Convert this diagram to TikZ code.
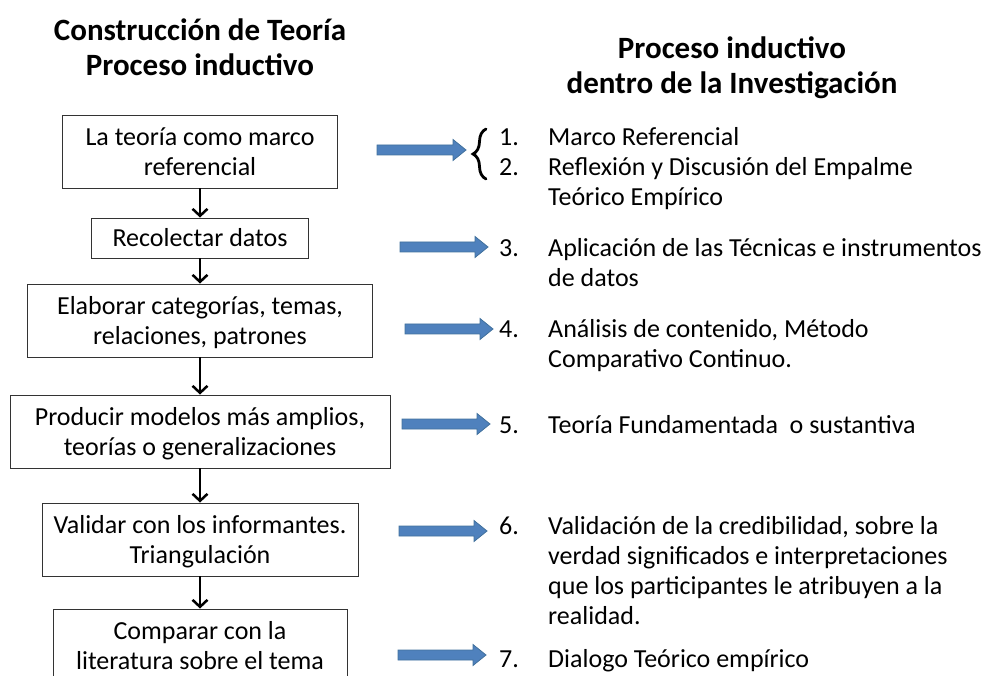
\documentclass[tikz,border=0pt]{standalone}
\usepackage{fontspec}
\setmainfont{Carlito}
\usetikzlibrary{arrows.meta,decorations.pathreplacing}
\definecolor{azulflecha}{HTML}{4F81BD}
\definecolor{azulborde}{HTML}{41719C}
\newcommand\puntal{\rule[-0.2\baselineskip]{0pt}{\baselineskip}}
\newcommand\inicio{\spaceskip=\fontdimen2\font\relax\xspaceskip=\fontdimen2\font\relax\hyphenpenalty=10000\relax\puntal}
\def\flecha(#1,#2)(#3){\draw[fill=azulflecha, draw=azulborde, line width=0.8pt] (#1, #2-5) -- (#3-13, #2-5) -- (#3-13, #2-10.5) -- (#3, #2) -- (#3-13, #2+10.5) -- (#3-13, #2+5) -- (#1, #2+5) -- cycle;}

\begin{document}
\begin{tikzpicture}[x=1pt, y=-1pt,
	caja/.style={draw=black!80, line width=0.9pt, align=flush center, inner sep=0pt, minimum height=73pt,
		minimum width=#1, text width=#1,
		font=\fontsize{26}{30}\selectfont, execute at begin node=\inicio, execute at end node=\puntal},
	renglon/.style={anchor=north west, align=flush left, inner sep=0pt, text width=450pt,
		font=\fontsize{26}{30}\selectfont, execute at begin node=\inicio, execute at end node=\puntal},
	numero/.style={renglon, text width=30pt},
	titulo/.style={align=flush center, inner sep=0pt, text width=420pt, font=\fontsize{31}{35}\selectfont\bfseries,
		execute at begin node=\inicio, execute at end node=\puntal},
	bajar/.style={line width=2.5pt, -{Straight Barb[length=7pt,width=15pt]}}]
			%%%%% START %%%%%
			
			\clip (0, 0) rectangle (988, 676);
			
			\node[titulo] (titizq) at (200, 47.5) {Construcción de Teoría\\Proceso inductivo};
			\node[titulo] (titder) at (732, 65.5) {Proceso inductivo\\dentro de la Investigación};
			
			\node[caja=275pt] (teoria) at (200, 151.5) {La teoría como marco\\referencial};
			\node[caja=217pt, minimum height=40pt] (datos) at (200, 238) {Recolectar datos};
			\node[caja=345pt] (categorias) at (200, 320.5) {Elaborar categorías, temas,\\relaciones, patrones};
			\node[caja=380pt] (modelos) at (200, 431.5) {Producir modelos más amplios,\\teorías o generalizaciones};
			\node[caja=316pt] (validar) at (200, 539.5) {Validar con los informantes.\\Triangulación};
			\node[caja=294pt] (comparar) at (200, 645.5) {Comparar con la\\literatura sobre el tema};
			
			\draw[bajar] (teoria) -- (datos);
			\draw[bajar] (datos) -- (categorias);
			\draw[bajar] (categorias) -- (modelos);
			\draw[bajar] (modelos) -- (validar);
			\draw[bajar] (validar) -- (comparar);
			
			\flecha(377, 150)(466);
			\flecha(400, 247)(488);
			\flecha(405, 329)(493);
			\flecha(402, 424)(490);
			\flecha(399, 531)(487);
			\flecha(398, 655)(486);
			
			\draw[line width=2.8pt, line cap=round, decorate, decoration={brace, amplitude=13pt}] (486, 179) -- (486, 129);
			
			\node[numero] (n1) at (499, 121) {1.};
			\node[renglon] (t1) at (548, 121) {Marco Referencial};
			\node[numero] (n2) at (499, 151) {2.};
			\node[renglon] (t2) at (548, 151) {Reflexión y Discusión del Empalme\\Teórico Empírico};
			\node[numero] (n3) at (499, 232) {3.};
			\node[renglon] (t3) at (548, 232) {Aplicación de las Técnicas e instrumentos\\de datos};
			\node[numero] (n4) at (499, 313) {4.};
			\node[renglon] (t4) at (548, 313) {Análisis de contenido, Método\\Comparativo Continuo.};
			\node[numero] (n5) at (499, 409) {5.};
			\node[renglon] (t5) at (548, 409) {Teoría Fundamentada\ \ o sustantiva};
			\node[numero] (n6) at (499, 510) {6.};
			\node[renglon] (t6) at (548, 510) {Validación de la credibilidad, sobre la\\verdad significados e interpretaciones\\que los participantes le atribuyen a la\\realidad.};
			\node[numero] (n7) at (499, 643) {7.};
			\node[renglon] (t7) at (548, 643) {Dialogo Teórico empírico};
			
			%%%%% END %%%%%
\end{tikzpicture}
\end{document}
